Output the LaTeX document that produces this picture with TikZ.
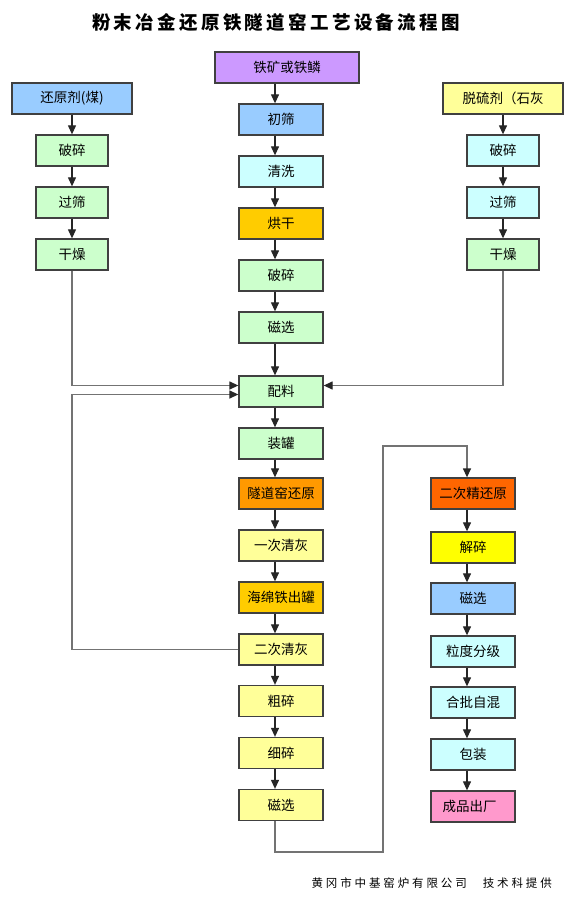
\documentclass[tikz,border=0pt]{standalone}
\usepackage{fontspec}
\setmainfont{Noto Sans CJK SC}
\newfontfamily\titlefont{Noto Sans CJK SC}[LetterSpace=18]
\newfontfamily\footfont{Noto Sans CJK SC}[LetterSpace=25]
\usetikzlibrary{arrows.meta}
\definecolor{cpurple}{HTML}{CC99FF}
\definecolor{cblue}{HTML}{99CCFF}
\definecolor{ccyan}{HTML}{CCFFFF}
\definecolor{cgold}{HTML}{FFCC00}
\definecolor{cgreen}{HTML}{CCFFCC}
\definecolor{corange}{HTML}{FF9900}
\definecolor{clyellow}{HTML}{FFFF99}
\definecolor{cred}{HTML}{FF6600}
\definecolor{cyellow}{HTML}{FFFF00}
\definecolor{cpink}{HTML}{FF99CC}
\definecolor{cborder}{HTML}{404040}
\tikzset{
  box/.style={draw=cborder, line width=1.3pt, minimum width=84pt, minimum height=31pt,
    inner sep=0pt, font=\fontsize{13.5}{15}\selectfont},
  arr/.style={-{Triangle[length=9pt,width=8pt,color=black!85]}, line width=1.2pt, draw=black!85},
  line/.style={line width=1.3pt, draw=black!55},
}
\begin{document}
\begin{tikzpicture}[x=1pt, y=-1pt]
			\path[fill=white] (0,0) rectangle (564,915);
			\useasboundingbox (0,0) rectangle (564,915);
			\node at (276, 22) (title) {\titlefont\bfseries\fontsize{18.5}{20}\selectfont 粉末冶金还原铁隧道窑工艺设备流程图};
			% main line
			\node[box, fill=cpurple, minimum width=144pt] at (287, 67.5) (m1) {铁矿或铁鳞};
			\node[box, fill=cblue] at (281, 119.5) (m2) {初筛};
			\node[box, fill=ccyan] at (281, 171.5) (m3) {清洗};
			\node[box, fill=cgold] at (281, 223.5) (m4) {烘干};
			\node[box, fill=cgreen] at (281, 275.5) (m5) {破碎};
			\node[box, fill=cgreen] at (281, 327.5) (m6) {磁选};
			\node[box, fill=cgreen] at (281, 391.5) (m7) {配料};
			\node[box, fill=cgreen] at (281, 443.5) (m8) {装罐};
			\node[box, fill=corange] at (281, 493.5) (m9) {隧道窑还原};
			\node[box, fill=clyellow] at (281, 545.5) (m10) {一次清灰};
			\node[box, fill=cgold] at (281, 597.5) (m11) {海绵铁出罐};
			\node[box, fill=clyellow] at (281, 649.5) (m12) {二次清灰};
			\node[box, fill=clyellow] at (281, 701) (m13) {粗碎};
			\node[box, fill=clyellow] at (281, 753) (m14) {细碎};
			\node[box, fill=clyellow] at (281, 805) (m15) {磁选};
			% reductant
			\node[box, fill=cblue, minimum width=120pt] at (72, 98.5) (l1) {还原剂(煤)};
			\node[box, fill=cgreen, minimum width=72pt] at (72, 150.5) (l2) {破碎};
			\node[box, fill=cgreen, minimum width=72pt] at (72, 202.5) (l3) {过筛};
			\node[box, fill=cgreen, minimum width=72pt] at (72, 254.5) (l4) {干燥};
			% desulfurizer
			\node[box, fill=clyellow, minimum width=120pt] at (503, 98.5) (r1) {脱硫剂（石灰};
			\node[box, fill=ccyan, minimum width=72pt] at (503, 150.5) (r2) {破碎};
			\node[box, fill=ccyan, minimum width=72pt] at (503, 202.5) (r3) {过筛};
			\node[box, fill=cgreen, minimum width=72pt] at (503, 254.5) (r4) {干燥};
			% second reduction
			\node[box, fill=cred] at (473, 493.5) (s1) {二次精还原};
			\node[box, fill=cyellow] at (473, 547.5) (s2) {解碎};
			\node[box, fill=cblue] at (473, 598.5) (s3) {磁选};
			\node[box, fill=ccyan] at (473, 651.5) (s4) {粒度分级};
			\node[box, fill=ccyan] at (473, 702.5) (s5) {合批自混};
			\node[box, fill=ccyan] at (473, 754.5) (s6) {包装};
			\node[box, fill=cpink] at (473, 806.5) (s7) {\hspace*{-7pt}成品出厂};
			\node[anchor=west] at (308, 883) (foot) {\footfont\fontsize{11.5}{13}\selectfont 黄冈市中基窑炉有限公司\hspace{16pt}技术科提供};
			\coordinate (back) at (72, 394.5);
			\coordinate (low) at (383, 852);
			\coordinate (high) at (383, 446);
			\draw[arr] ([xshift=-6pt]m2.north |- m1.south) -- ([xshift=-6pt]m2.north);
			\draw[arr] ([xshift=-6pt]m2.south) -- ([xshift=-6pt]m3.north);
			\draw[arr] ([xshift=-6pt]m3.south) -- ([xshift=-6pt]m4.north);
			\draw[arr] ([xshift=-6pt]m4.south) -- ([xshift=-6pt]m5.north);
			\draw[arr] ([xshift=-6pt]m5.south) -- ([xshift=-6pt]m6.north);
			\draw[arr] ([xshift=-6pt]m6.south) -- ([xshift=-6pt]m7.north);
			\draw[arr] ([xshift=-6pt]m7.south) -- ([xshift=-6pt]m8.north);
			\draw[arr] ([xshift=-6pt]m8.south) -- ([xshift=-6pt]m9.north);
			\draw[arr] ([xshift=-6pt]m9.south) -- ([xshift=-6pt]m10.north);
			\draw[arr] ([xshift=-6pt]m10.south) -- ([xshift=-6pt]m11.north);
			\draw[arr] ([xshift=-6pt]m11.south) -- ([xshift=-6pt]m12.north);
			\draw[arr] ([xshift=-6pt]m12.south) -- ([xshift=-6pt]m13.north);
			\draw[arr] ([xshift=-6pt]m13.south) -- ([xshift=-6pt]m14.north);
			\draw[arr] ([xshift=-6pt]m14.south) -- ([xshift=-6pt]m15.north);
			\draw[arr] (l1) -- (l2);
			\draw[arr] (l2) -- (l3);
			\draw[arr] (l3) -- (l4);
			\draw[arr] (r1) -- (r2);
			\draw[arr] (r2) -- (r3);
			\draw[arr] (r3) -- (r4);
			\draw[arr] ([xshift=-6pt]s1.south) -- ([xshift=-6pt]s2.north);
			\draw[arr] ([xshift=-6pt]s2.south) -- ([xshift=-6pt]s3.north);
			\draw[arr] ([xshift=-6pt]s3.south) -- ([xshift=-6pt]s4.north);
			\draw[arr] ([xshift=-6pt]s4.south) -- ([xshift=-6pt]s5.north);
			\draw[arr] ([xshift=-6pt]s5.south) -- ([xshift=-6pt]s6.north);
			\draw[arr] ([xshift=-6pt]s6.south) -- ([xshift=-6pt]s7.north);
			\draw[arr, line] (l4.south) |- ([yshift=6pt]m7.west);
			\draw[arr, line] (r4.south) |- ([yshift=6pt]m7.east);
			\draw[arr, line] (m12.west) -| (back) -- ([yshift=-3pt]m7.west);
			\draw[arr, line] ([xshift=-6pt]m15.south) |- (low) -- (high) -| ([xshift=-6pt]s1.north);
		\end{tikzpicture}
\end{document}
